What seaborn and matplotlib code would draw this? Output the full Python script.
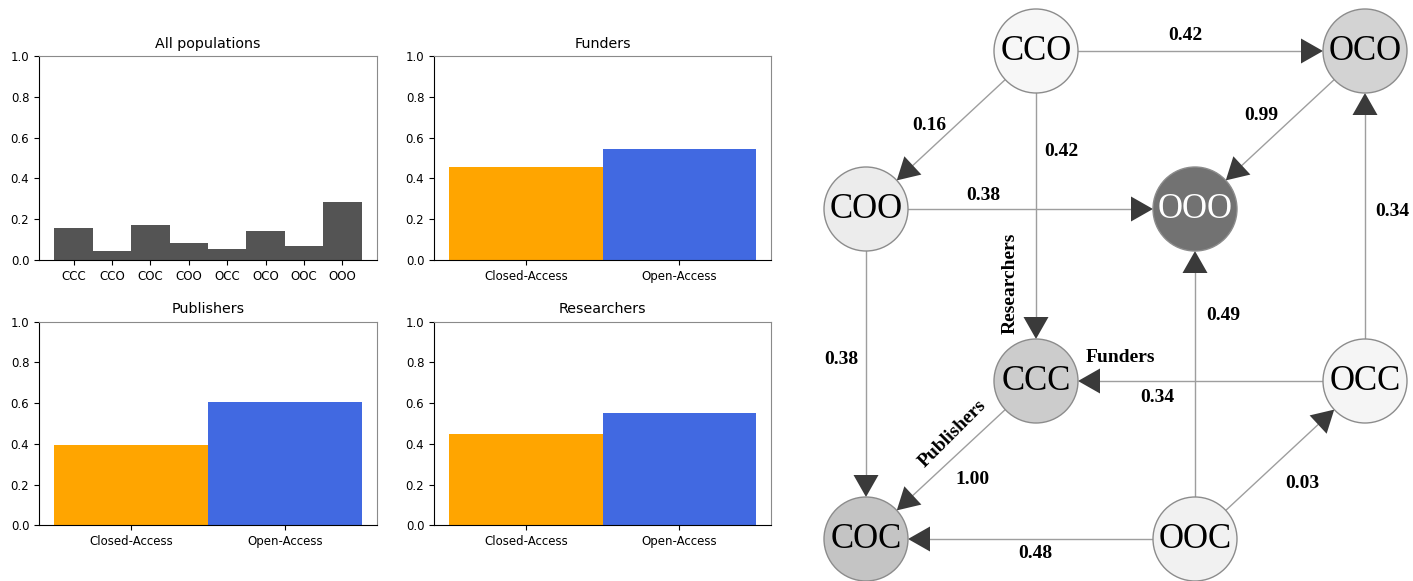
import numpy as np
import pandas as pd
import matplotlib
matplotlib.use("Agg")
import matplotlib.pyplot as plt
import seaborn as sns
from matplotlib.patches import Circle, Polygon
from matplotlib import colors as mcolors

# ---- data -------------------------------------------------------------
states = ["CCC", "CCO", "COC", "COO", "OCC", "OCO", "OOC", "OOO"]
all_share = [0.155, 0.042, 0.170, 0.085, 0.052, 0.142, 0.067, 0.283]

access = ["Closed-Access", "Open-Access"]
funders_share = [0.455, 0.545]
publishers_share = [0.393, 0.607]
researchers_share = [0.447, 0.553]

edge_src = ["CCO", "CCO", "CCO", "OCO", "COO", "OCC", "COO", "OOC", "OCC", "CCC", "OOC", "OOC"]
edge_dst = ["OCO", "COO", "CCC", "OOO", "OOO", "OCO", "COC", "OOO", "CCC", "COC", "COC", "OCC"]
edge_p = [0.42, 0.16, 0.42, 0.99, 0.38, 0.34, 0.38, 0.49, 0.34, 1.00, 0.48, 0.03]

# ---- figure -----------------------------------------------------------
W, H = 1413, 581
fig = plt.figure(figsize=(W / 100, H / 100), dpi=100)

def px_axes(x0, y0, x1, y1):
    return fig.add_axes([x0 / W, 1 - y1 / H, (x1 - x0) / W, (y1 - y0) / H])

access_palette = {"Closed-Access": "orange", "Open-Access": "royalblue"}

def style_bar_axes(ax, title, n):
    ax.set_ylim(0, 1)
    ax.set_xlim(-0.5 - 0.05 * n, n - 0.5 + 0.05 * n)
    ax.set_yticks(np.arange(0, 1.01, 0.2))
    ax.set_yticklabels([f"{v:.1f}" for v in np.arange(0, 1.01, 0.2)])
    ax.set_xlabel("")
    ax.set_ylabel("")
    ax.set_title(title, fontsize=10.3, pad=6)
    ax.tick_params(labelsize=8.5, length=3.5, width=0.8, colors="black")
    for side in ("top", "right"):
        ax.spines[side].set_color("#8a8a8a")
    for side in ("left", "bottom"):
        ax.spines[side].set_color("black")
    for s in ax.spines.values():
        s.set_linewidth(0.8)

ax_all = px_axes(39, 56, 377, 260)
sns.barplot(x=states, y=all_share, color="#545454", width=1, linewidth=0,
            saturation=1, ax=ax_all)
style_bar_axes(ax_all, "All populations", len(states))

panels = [
    ((434, 56, 771, 260), "Funders", funders_share),
    ((39, 321.7, 377, 525.3), "Publishers", publishers_share),
    ((434, 321.7, 771, 525.3), "Researchers", researchers_share),
]
for box, title, share in panels:
    ax = px_axes(*box)
    df = pd.DataFrame({"access": access, "share": share})
    sns.barplot(data=df, x="access", y="share", hue="access", palette=access_palette,
                width=1, linewidth=0, saturation=1, legend=False, ax=ax)
    style_bar_axes(ax, title, len(access))

# ---- transition network ----------------------------------------------
net = px_axes(810, 0, W, H)
net.set_xlim(810, W)
net.set_ylim(H, 0)
net.axis("off")

# cube projection: 1st letter -> right, 2nd letter -> front, 3rd letter -> top
origin = np.array([1036.0, 51.0])
step_f = np.array([329.0, 0.0])
step_p = np.array([-170.0, 158.0])
step_r = np.array([0.0, 330.0])

def node_pos(code):
    f, p, r = (c == "O" for c in code)
    return origin + f * step_f + p * step_p + (not r) * step_r

R = 42
share_of = dict(zip(states, all_share))
node_norm = mcolors.PowerNorm(gamma=1.18, vmin=0.0, vmax=0.42)
cmap = plt.get_cmap("Greys")

serif = ["Liberation Serif", "DejaVu Serif"]

# edges first, then nodes on top
label_xy = [(1185, 35), (929, 126), (1061, 152), (1261, 115), (983, 196), (1392, 211),
            (841, 360), (1223, 315), (1157, 397), (973, 480), (1035, 554), (1302, 484)]
head_len, head_w = 22, 25
for s, d, p, (lx, ly) in zip(edge_src, edge_dst, edge_p, label_xy):
    a, b = node_pos(s), node_pos(d)
    u = (b - a) / np.linalg.norm(b - a)
    perp = np.array([-u[1], u[0]])
    start = a + R * u
    tip = b - R * u
    base = tip - head_len * u
    net.plot([start[0], base[0]], [start[1], base[1]], color="#9e9e9e", lw=1.0, zorder=1)
    net.add_patch(Polygon([tip, base + perp * head_w / 2, base - perp * head_w / 2],
                          closed=True, facecolor="#3a3a3a", edgecolor="none", zorder=2))
    net.text(lx, ly, f"{p:.2f}", ha="center", va="center", fontsize=14,
             fontweight="bold", family=serif, zorder=4)

for code in states:
    x, y = node_pos(code)
    fc = cmap(node_norm(share_of[code]))
    net.add_patch(Circle((x, y), R, facecolor=fc, edgecolor="#8c8c8c", lw=1.0, zorder=3))
    txt_color = "white" if share_of[code] == max(all_share) else "black"
    net.text(x, y + 1, code, ha="center", va="center", fontsize=25, family=serif,
             color=txt_color, zorder=4)

net.text(1010, 283, "Researchers", rotation=90, ha="center", va="center", fontsize=14,
         fontweight="bold", family=serif, zorder=4)
net.text(1120, 357, "Funders", ha="center", va="center", fontsize=14,
         fontweight="bold", family=serif, zorder=4)
net.text(953, 434, "Publishers", rotation=45, ha="center", va="center", fontsize=14,
         fontweight="bold", family=serif, zorder=4, rotation_mode="anchor")

fig.savefig("out.png", dpi=100)
